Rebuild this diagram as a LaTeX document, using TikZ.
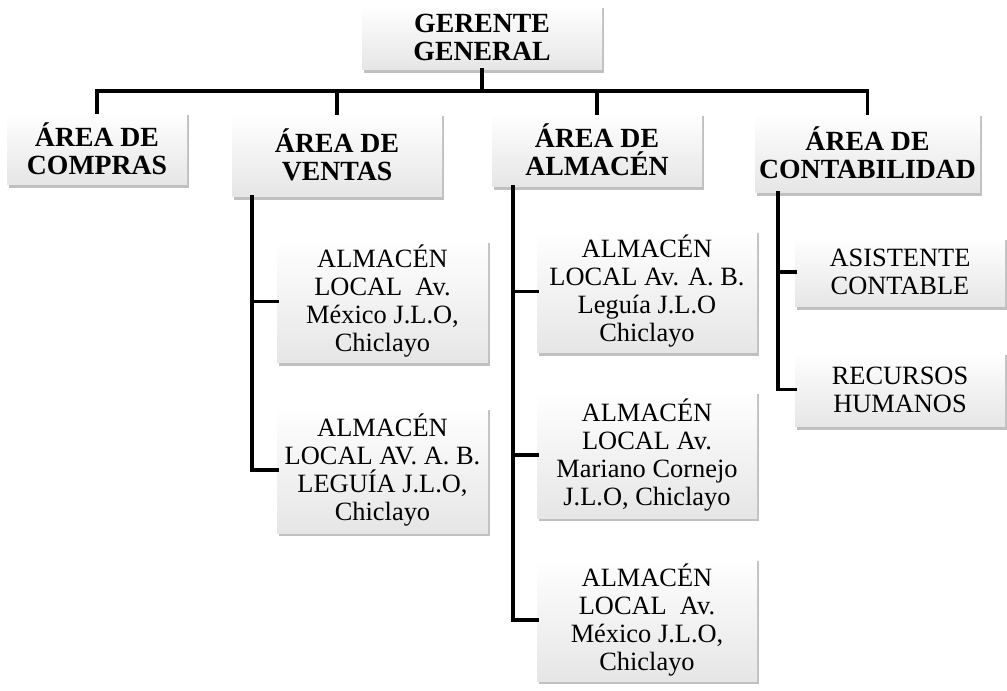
\documentclass[tikz,border=0pt]{standalone}
\usepackage{fontspec}
\setmainfont{Liberation Serif}
\usetikzlibrary{shadows}
\begin{document}
\begin{tikzpicture}[x=0.75pt, y=-0.75pt,
  box/.style={rectangle, inner sep=0pt, align=center, top color=white, bottom color=gray!20,
    drop shadow={shadow xshift=1.8pt, shadow yshift=-2.2pt, fill=black!55, opacity=0.45},
    font=\fontsize{19.8}{21}\selectfont},
  head/.style={box, font=\fontsize{20.8}{21}\selectfont\bfseries},
  wire/.style={line width=2.8pt, line cap=rect, line join=miter}]
\useasboundingbox (0,0) rectangle (1007,691);
\node[head, minimum width=180pt, minimum height=48.75pt] (ger) at (482,37.5){GERENTE\\GENERAL};
\coordinate (bus) at (482,91);
\node[head, minimum width=135pt, minimum height=54.75pt] (area1) at (97,148.5){ÁREA DE\\COMPRAS};
\node[head, minimum width=157.5pt, minimum height=63pt] (area2) at (337,155){ÁREA DE\\VENTAS};
\node[head, minimum width=157.5pt, minimum height=55.5pt] (area3) at (597,150){ÁREA DE\\ALMACÉN};
\node[head, minimum width=168.75pt, minimum height=60pt] (area4) at (867.5,153){ÁREA DE\\CONTABILIDAD};
\draw[wire](area1.north) -- (area1.north |- bus) -- (area4.north |- bus) -- (area4.north);
\draw[wire](ger.south) -- (ger.south |- bus);
\draw[wire](area2.north) -- (area2.north |- bus);
\draw[wire](area3.north) -- (area3.north |- bus);
% ventas
\node[box, minimum width=158.25pt, minimum height=92.25pt] (ven1) at (382.5,301.5){ALMACÉN\\LOCAL\ \ Av.\\México J.L.O,\\Chiclayo};
\node[box, minimum width=158.25pt, minimum height=94.5pt] (ven2) at (382.5,470){ALMACÉN\\LOCAL AV. A. B.\\LEGUÍA J.L.O,\\Chiclayo};
\coordinate (vtop) at ([xshift=15pt]area2.south west);
\draw[wire](vtop) |- (ven2.west);
\draw[wire](vtop) |- (ven1.west);
% almacen
\node[box, minimum width=165pt, minimum height=92.25pt] (alm1) at (647,291.5){ALMACÉN\\LOCAL Av. A. B.\\Leguía J.L.O\\Chiclayo};
\node[box, minimum width=165pt, minimum height=95.25pt] (alm2) at (647,455){ALMACÉN\\LOCAL Av.\\Mariano Cornejo\\J.L.O, Chiclayo};
\node[box, minimum width=165pt, minimum height=92.25pt] (alm3) at (647,620){ALMACÉN\\LOCAL\ \ Av.\\México J.L.O,\\Chiclayo};
\coordinate (atop) at ([xshift=15.75pt]area3.south west);
\draw[wire](atop) |- (alm3.west);
\draw[wire](atop) |- (alm2.west);
\draw[wire](atop) |- (alm1.west);
% contabilidad
\node[box, minimum width=157.5pt, minimum height=52.5pt] (con1) at (900,272){ASISTENTE\\CONTABLE};
\node[box, minimum width=157.5pt, minimum height=56.25pt] (con2) at (900,389.5){RECURSOS\\HUMANOS};
\coordinate (ctop) at ([xshift=17.25pt]area4.south west);
\draw[wire](ctop) |- (con2.west);
\draw[wire](ctop) |- (con1.west);
\end{tikzpicture}
\end{document}
